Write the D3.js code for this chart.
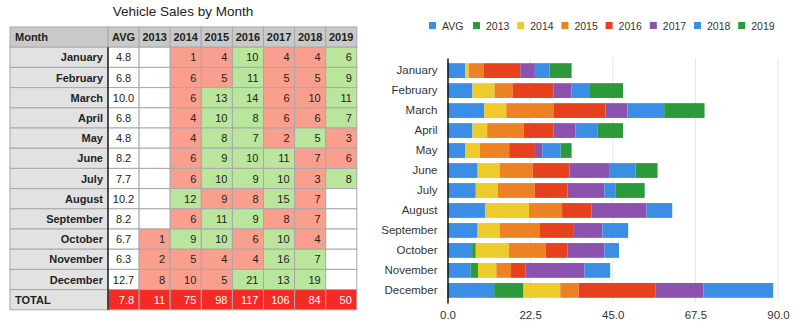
<!DOCTYPE html>
<html>
<head>
<meta charset="utf-8">
<script src="https://cdn.jsdelivr.net/npm/d3@7"></script>
<style>
  body { margin: 0; background: #fff; }
  svg { display: block; font-family: "Liberation Sans", Arial, sans-serif; }
</style>
</head>
<body>
<svg id="chart" width="796" height="323"></svg>
<script>
'use strict';

// ---- data ----
var months = ["January", "February", "March", "April", "May", "June",
              "July", "August", "September", "October", "November", "December"];
var years  = ["2013", "2014", "2015", "2016", "2017", "2018", "2019"];
var avg    = [4.8, 6.8, 10.0, 6.8, 4.8, 8.2, 7.7, 10.2, 8.2, 6.7, 6.3, 12.7];
var y2013  = [null, null, null, null, null, null, null, null, null, 1, 2, 8];
var y2014  = [1, 6, 6, 4, 4, 6, 6, 12, 6, 9, 5, 10];
var y2015  = [4, 5, 13, 10, 8, 9, 10, 9, 11, 10, 4, 5];
var y2016  = [10, 11, 14, 8, 7, 10, 9, 8, 9, 6, 4, 21];
var y2017  = [4, 5, 6, 6, 2, 11, 10, 15, 8, 10, 16, 13];
var y2018  = [4, 5, 10, 6, 5, 7, 3, 7, 7, 4, 7, 19];
var y2019  = [6, 9, 11, 7, 3, 6, 8, null, null, null, null, null];
var totals = ["7.8", "11", "75", "98", "117", "106", "84", "50"];
var xTicks = [0, 22.5, 45, 67.5, 90];

var seriesKeys = ["AVG"].concat(years);
var seriesVals = [avg, y2013, y2014, y2015, y2016, y2017, y2018, y2019];
var colors = ["#3a8ee6", "#2c9a3b", "#eccb2b", "#ec8224", "#e6401c", "#8b53ad", "#3a8ee6", "#2c9a3b"];

var svg = d3.select("#chart");

/*=====  Table  ======*/
var tbl = { x: 10, y: 27, monthW: 98, colW: 31.1, rowH: 20.2 };
var cols = ["AVG"].concat(years);

svg.append("text")
    .attr("x", 183).attr("y", 16)
    .attr("text-anchor", "middle")
    .style("font-size", "13.5px").style("fill", "#222")
    .text("Vehicle Sales by Month");

var tg = svg.append("g").attr("class", "table");
var colX = function (i) { return tbl.x + tbl.monthW + i * tbl.colW; };

function cell(x, y, w, fill) {
    tg.append("rect")
        .attr("x", x).attr("y", y).attr("width", w).attr("height", tbl.rowH)
        .attr("fill", fill).attr("stroke", "#a8a8a8").attr("stroke-width", 1);
}
function label(x, y, txt, anchor, opts) {
    opts = opts || {};
    tg.append("text")
        .attr("x", x).attr("y", y + tbl.rowH / 2 + 4)
        .attr("text-anchor", anchor)
        .style("font-size", "11px")
        .style("font-weight", opts.bold ? "bold" : "normal")
        .style("fill", opts.fill || "#222")
        .text(txt);
}

// header
cell(tbl.x, tbl.y, tbl.monthW, "#c9c9c9");
label(tbl.x + 5, tbl.y, "Month", "start", { bold: true });
cols.forEach(function (c, i) {
    cell(colX(i), tbl.y, tbl.colW, "#c9c9c9");
    label(colX(i) + tbl.colW / 2, tbl.y, c, "middle", { bold: true });
});

// month rows
months.forEach(function (m, r) {
    var y = tbl.y + (r + 1) * tbl.rowH;
    cell(tbl.x, y, tbl.monthW, "#e2e2e2");
    label(tbl.x + tbl.monthW - 5, y, m, "end", { bold: true });
    cell(colX(0), y, tbl.colW, "#ffffff");
    label(colX(0) + tbl.colW / 2, y, avg[r].toFixed(1), "middle");
    for (var k = 1; k < seriesVals.length; k++) {
        var v = seriesVals[k][r];
        var fill = v == null ? "#ffffff" : (v > avg[r] ? "#b9e59d" : "#fa9f8e");
        cell(colX(k), y, tbl.colW, fill);
        if (v != null) label(colX(k) + tbl.colW - 5, y, v, "end");
    }
});

// total row
var ty = tbl.y + 13 * tbl.rowH;
cell(tbl.x, ty, tbl.monthW, "#e2e2e2");
label(tbl.x + 5, ty, "TOTAL", "start", { bold: true });
totals.forEach(function (t, i) {
    cell(colX(i), ty, tbl.colW, "#f62a24");
    label(colX(i) + tbl.colW - 5, ty, t, "end", { fill: "#ffffff" });
});

// thick divider after month column
tg.append("line")
    .attr("x1", colX(0)).attr("x2", colX(0))
    .attr("y1", tbl.y + tbl.rowH).attr("y2", tbl.y + 14 * tbl.rowH)
    .attr("stroke", "#222").attr("stroke-width", 1.5);

/*=====  Stacked bar chart  ======*/
var plot = { left: 447.5, right: 778, top: 58, bottom: 303 };

var x = d3.scaleLinear().domain([0, 90]).range([plot.left, plot.right]);
var y = d3.scaleBand().domain(months).range([plot.top, plot.bottom]).padding(0.26);

var rows = months.map(function (m, r) {
    var o = { month: m };
    seriesKeys.forEach(function (k, i) { o[k] = seriesVals[i][r] || 0; });
    return o;
});
var stack = d3.stack().keys(seriesKeys)(rows);

var bg = svg.append("g");

// gridlines
bg.selectAll("line.grid")
    .data(xTicks.slice(1))
    .join("line")
    .attr("class", "grid")
    .attr("x1", function (d) { return x(d); }).attr("x2", function (d) { return x(d); })
    .attr("y1", plot.top).attr("y2", plot.bottom)
    .attr("stroke", "#e6e6e6").attr("stroke-width", 1);

bg.selectAll("g.series")
    .data(stack)
    .join("g")
    .attr("class", "series")
    .attr("fill", function (d, i) { return colors[i]; })
    .selectAll("rect")
    .data(function (d) { return d; })
    .join("rect")
    .attr("x", function (d) { return x(d[0]); })
    .attr("width", function (d) { return x(d[1]) - x(d[0]); })
    .attr("y", function (d) { return y(d.data.month); })
    .attr("height", y.bandwidth());

// y axis
var yAxis = bg.append("g")
    .attr("transform", "translate(" + plot.left + ",0)")
    .call(d3.axisLeft(y).tickSize(0).tickPadding(10));
yAxis.select(".domain").attr("stroke", "#111").attr("stroke-width", 1.5);
yAxis.selectAll("text").style("font-size", "11.5px").style("fill", "#333")
    .style("font-family", "'Liberation Sans', Arial, sans-serif");

// x axis
var xAxis = bg.append("g")
    .attr("transform", "translate(0," + plot.bottom + ")")
    .call(d3.axisBottom(x).tickValues(xTicks).tickFormat(d3.format(".1f")).tickSize(0).tickPadding(8));
xAxis.select(".domain").remove();
xAxis.selectAll("text").style("font-size", "11.5px").style("fill", "#333")
    .style("font-family", "'Liberation Sans', Arial, sans-serif");

// legend: AVG first, then evenly spaced year items
var lg = svg.append("g").attr("transform", "translate(0,26)");
lg.selectAll("g.item")
    .data(seriesKeys)
    .join("g")
    .attr("class", "item")
    .attr("transform", function (d, i) {
        return "translate(" + (i === 0 ? 429 : 473 + (i - 1) * 44.2) + ",0)";
    })
    .each(function (k, i) {
        var g = d3.select(this);
        g.append("rect").attr("x", 0).attr("y", -4).attr("width", 7).attr("height", 7).attr("fill", colors[i]);
        g.append("text").attr("x", 13).attr("y", 4)
            .style("font-size", "10.5px").style("fill", "#333").text(k);
    });
</script>
</body>
</html>
